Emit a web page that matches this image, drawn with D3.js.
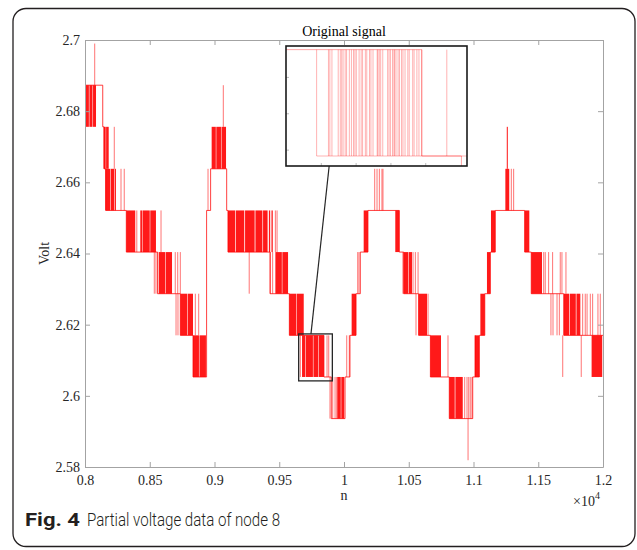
<!DOCTYPE html>
<html>
<head>
<meta charset="utf-8">
<script src="https://cdn.jsdelivr.net/npm/d3@7"></script>
<style>
	body { margin: 0; background: #fff; }
	svg { display: block; }
</style>
</head>
<body>
<div id="chart"></div>
<script>

///////////////////////////////////////////////////////////////////////
// data

// quantised voltage levels, index 0 .. 10
const levels = [ 2.5819, 2.5936, 2.6053, 2.6170, 2.6287, 2.6404, 2.6521, 2.6638, 2.6756, 2.6873, 2.6990 ];

// [ n, level index ] : level the signal settles on from n onward
const steps = [
	[ 8000, 9 ], [ 8137, 8 ], [ 8147, 7 ], [ 8160, 6 ], [ 8319, 5 ], [ 8560, 4 ], [ 8736, 3 ], [ 8834, 2 ],
	[ 8939, 6 ], [ 8970, 7 ], [ 9094, 6 ], [ 9104, 5 ], [ 9429, 4 ], [ 9578, 3 ], [ 9845, 2 ], [ 9902, 1 ],
	[ 10008, 2 ], [ 10046, 3 ], [ 10093, 4 ], [ 10126, 5 ], [ 10185, 6 ], [ 10427, 5 ], [ 10461, 4 ],
	[ 10576, 3 ], [ 10667, 2 ], [ 10813, 1 ], [ 10994, 2 ], [ 11045, 3 ], [ 11087, 4 ], [ 11130, 5 ],
	[ 11168, 6 ], [ 11395, 5 ], [ 11446, 4 ], [ 11697, 3 ], [ 12000, 3 ]
];

// [ n_from, n_to, lower level index ] : stretches of fast toggling between two levels
const bursts = [
	[ 8000, 8030, 8 ], [ 8034, 8058, 8 ], [ 8062, 8085, 8 ],
	[ 8144, 8160, 7 ], [ 8163, 8183, 7 ],
	[ 8157, 8195, 6 ], [ 8199, 8225, 6 ], [ 8229, 8239, 6 ],
	[ 8319, 8388, 5 ], [ 8427, 8440, 5 ], [ 8444, 8500, 5 ], [ 8504, 8548, 5 ],
	[ 8569, 8620, 4 ], [ 8624, 8672, 4 ],
	[ 8736, 8790, 3 ], [ 8794, 8834, 3 ],
	[ 8834, 8880, 2 ], [ 8884, 8934, 2 ],
	[ 8978, 9010, 7 ], [ 9014, 9050, 7 ], [ 9054, 9089, 7 ],
	[ 9104, 9160, 5 ], [ 9165, 9230, 5 ], [ 9236, 9310, 5 ], [ 9316, 9370, 5 ], [ 9375, 9410, 5 ],
	[ 9420, 9430, 5 ], [ 9440, 9450, 5 ],
	[ 9470, 9520, 4 ], [ 9524, 9568, 4 ],
	[ 9578, 9630, 3 ], [ 9634, 9689, 3 ],
	[ 9676, 9700, 2 ], [ 9704, 9760, 2 ], [ 9764, 9800, 2 ], [ 9804, 9845, 2 ],
	[ 9948, 9975, 1 ], [ 9979, 10002, 1 ],
	[ 10059, 10093, 3 ],
	[ 10152, 10185, 5 ],
	[ 10396, 10427, 5 ],
	[ 10461, 10495, 4 ], [ 10499, 10525, 4 ],
	[ 10576, 10641, 3 ],
	[ 10667, 10749, 2 ],
	[ 10813, 10855, 1 ], [ 10860, 10917, 1 ],
	[ 11009, 11045, 2 ],
	[ 11053, 11087, 3 ],
	[ 11104, 11130, 4 ],
	[ 11135, 11168, 5 ],
	[ 11246, 11276, 6 ],
	[ 11257, 11265, 7 ],
	[ 11395, 11431, 5 ],
	[ 11446, 11529, 4 ],
	[ 11697, 11740, 3 ], [ 11745, 11790, 3 ], [ 11795, 11825, 3 ],
	[ 11912, 11994, 2 ]
];

// [ n, lower level index ] : single spikes between two levels
const spikes = [
	[ 8075, 9 ], [ 8226, 7 ], [ 8278, 6 ], [ 8303, 6 ], [ 8400, 5 ], [ 8587, 5 ],
	[ 8535, 4 ], [ 8548, 4 ], [ 8697, 4 ], [ 8716, 4 ], [ 8736, 4 ],
	[ 8703, 3 ], [ 8718, 3 ], [ 8852, 3 ], [ 8878, 3 ],
	[ 8950, 6 ], [ 9068, 8 ],
	[ 9268, 4 ], [ 9470, 5 ], [ 9483, 5 ], [ 9431, 4 ], [ 9449, 4 ],
	[ 9663, 2 ], [ 9869, 2 ], [ 9882, 2 ],
	[ 9892, 1 ], [ 9913, 1 ], [ 9931, 1 ], [ 9944, 1 ],
	[ 10021, 2 ], [ 10041, 2 ],
	[ 10106, 4 ], [ 10116, 4 ],
	[ 10237, 6 ], [ 10255, 6 ], [ 10273, 6 ], [ 10293, 6 ], [ 10301, 6 ],
	[ 10455, 4 ], [ 10533, 4 ], [ 10551, 4 ], [ 10572, 4 ],
	[ 10556, 3 ], [ 10649, 3 ],
	[ 10803, 2 ], [ 11014, 2 ],
	[ 10932, 1 ], [ 10950, 1 ], [ 10963, 1 ], [ 10975, 1 ], [ 10988, 1 ],
	[ 10958, 0 ],
	[ 11292, 6 ], [ 11310, 6 ],
	[ 11542, 4 ], [ 11554, 4 ], [ 11580, 4 ], [ 11611, 4 ], [ 11670, 4 ], [ 11683, 4 ], [ 11714, 4 ],
	[ 11598, 3 ], [ 11614, 3 ], [ 11645, 3 ], [ 11663, 3 ], [ 11843, 3 ], [ 11863, 3 ], [ 11877, 3 ],
	[ 11902, 3 ], [ 11920, 3 ], [ 11961, 3 ], [ 11979, 3 ],
	[ 11689, 2 ], [ 11832, 2 ]
];

const x_ticks = [ 8000, 8500, 9000, 9500, 10000, 10500, 11000, 11500, 12000 ];
const y_ticks = [ 2.58, 2.6, 2.62, 2.64, 2.66, 2.68, 2.7 ];

// zoomed window ("Original signal")
const zoom_n = [ 9650, 9910 ];
const zoom_v = [ 2.6042, 2.6174 ];
const zoom_x_ticks = [ 9700, 9750, 9800, 9850 ];
const zoom_y_ticks = [ 2.606, 2.610, 2.614 ];
const zoom_toggles = [
	9694, 9711, 9713, 9716, 9725, 9728, 9730, 9732, 9735, 9737, 9741, 9744, 9747, 9749, 9751,
	9755, 9758, 9760, 9764, 9766, 9770, 9772, 9775, 9781, 9782, 9784, 9786, 9789, 9796, 9798,
	9800, 9803, 9805, 9806, 9808, 9811, 9813, 9816, 9818, 9821, 9825, 9827, 9832, 9834, 9838,
	9841, 9845, 9881
];

const title = "Original signal";
const x_label = "n";
const y_label = "Volt";
const caption_bold = "Fig. 4";
const caption_text = "Partial voltage data of node 8";

///////////////////////////////////////////////////////////////////////

const W = 637, H = 550;
const plot = { left: 85, right: 603, top: 40, bottom: 467 };
const inset = { left: 286, right: 467, top: 46, bottom: 166 };

const serif = "'Liberation Serif', 'Times New Roman', serif";
const sans = "Roboto, 'Noto Sans', sans-serif";
const axis_grey = "#a3a3a3";
const text_col = "#262626";
const red = "#ff0000";

let svg = d3.select( "#chart" )
	.append( "svg" )
	.attr( "width", W )
	.attr( "height", H );

// outer frame of the figure
svg.append( "rect" )
	.attr( "x", 13 ).attr( "y", 8.5 )
	.attr( "width", 622 ).attr( "height", 538 )
	.attr( "rx", 13 )
	.attr( "fill", "#fff" )
	.attr( "stroke", "#231f20" )
	.attr( "stroke-width", 1.3 );

let X = d3.scaleLinear()
	.domain( [ 8000, 12000 ] )
	.range( [ plot.left, plot.right ] );

let Y = d3.scaleLinear()
	.domain( [ 2.58, 2.7 ] )
	.range( [ plot.bottom, plot.top ] );

let defs = svg.append( "defs" );
defs.append( "clipPath" ).attr( "id", "clip_main" )
	.append( "rect" )
	.attr( "x", plot.left ).attr( "y", plot.top )
	.attr( "width", plot.right - plot.left ).attr( "height", plot.bottom - plot.top );
defs.append( "clipPath" ).attr( "id", "clip_inset" )
	.append( "rect" )
	.attr( "x", inset.left ).attr( "y", inset.top )
	.attr( "width", inset.right - inset.left ).attr( "height", inset.bottom - inset.top );

///////////////////////////////////////////////////////////////////////
// main signal

let g_sig = svg.append( "g" ).attr( "clip-path", "url(#clip_main)" );

g_sig.selectAll( "rect.burst" )
	.data( bursts )
	.join( "rect" )
		.attr( "class", "burst" )
		.attr( "x", d => X( d[ 0 ] ) )
		.attr( "width", d => Math.max( X( d[ 1 ] ) - X( d[ 0 ] ), 1 ) )
		.attr( "y", d => Y( levels[ d[ 2 ] + 1 ] ) )
		.attr( "height", d => Y( levels[ d[ 2 ] ] ) - Y( levels[ d[ 2 ] + 1 ] ) )
		.attr( "fill", red )
		.attr( "fill-opacity", 0.9 );

g_sig.selectAll( "line.spike" )
	.data( spikes )
	.join( "line" )
		.attr( "class", "spike" )
		.attr( "x1", d => X( d[ 0 ] ) )
		.attr( "x2", d => X( d[ 0 ] ) )
		.attr( "y1", d => Y( levels[ d[ 1 ] ] ) )
		.attr( "y2", d => Y( levels[ d[ 1 ] + 1 ] ) )
		.attr( "stroke", red )
		.attr( "stroke-opacity", 0.55 )
		.attr( "stroke-width", 1 );

g_sig.append( "path" )
	.datum( steps )
	.attr( "d", d3.line()
		.curve( d3.curveStepAfter )
		.x( d => X( d[ 0 ] ) )
		.y( d => Y( levels[ d[ 1 ] ] ) )
	)
	.attr( "fill", "none" )
	.attr( "stroke", red )
	.attr( "stroke-opacity", 0.75 )
	.attr( "stroke-width", 1 );

///////////////////////////////////////////////////////////////////////
// axes, box style

function style_axis( g )	{
	g.select( ".domain" ).attr( "stroke", axis_grey );
	g.selectAll( ".tick line" ).attr( "stroke", axis_grey );
	g.selectAll( ".tick text" )
		.attr( "fill", text_col )
		.attr( "font-family", serif )
		.attr( "font-size", 14 );
}

let fmt_x = d => String( +( d / 1e4 ).toFixed( 2 ) );

svg.append( "g" )
	.attr( "transform", "translate(0," + plot.bottom + ")" )
	.call( d3.axisBottom( X ).tickValues( x_ticks ).tickSizeInner( -5 ).tickSizeOuter( 0 ).tickPadding( 8 ).tickFormat( fmt_x ) )
	.call( style_axis );

svg.append( "g" )
	.attr( "transform", "translate(0," + plot.top + ")" )
	.call( d3.axisTop( X ).tickValues( x_ticks ).tickSizeInner( -5 ).tickSizeOuter( 0 ).tickFormat( "" ) )
	.call( style_axis );

svg.append( "g" )
	.attr( "transform", "translate(" + plot.left + ",0)" )
	.call( d3.axisLeft( Y ).tickValues( y_ticks ).tickSizeInner( -5 ).tickSizeOuter( 0 ).tickPadding( 5 ).tickFormat( d => d ) )
	.call( style_axis );

svg.append( "g" )
	.attr( "transform", "translate(" + plot.right + ",0)" )
	.call( d3.axisRight( Y ).tickValues( y_ticks ).tickSizeInner( -5 ).tickSizeOuter( 0 ).tickFormat( "" ) )
	.call( style_axis );

// labels
svg.append( "text" )
	.attr( "x", ( plot.left + plot.right ) / 2 ).attr( "y", 36 )
	.attr( "text-anchor", "middle" )
	.attr( "font-family", serif ).attr( "font-size", 14 )
	.attr( "fill", "#000" )
	.text( title );

svg.append( "text" )
	.attr( "x", X( 10000 ) ).attr( "y", 500 )
	.attr( "text-anchor", "middle" )
	.attr( "font-family", serif ).attr( "font-size", 14 )
	.attr( "fill", text_col )
	.text( x_label );

svg.append( "text" )
	.attr( "transform", "translate(49," + ( plot.top + plot.bottom ) / 2 + ") rotate(-90)" )
	.attr( "text-anchor", "middle" )
	.attr( "font-family", serif ).attr( "font-size", 14 )
	.attr( "fill", text_col )
	.text( y_label );

let exp = svg.append( "text" )
	.attr( "x", 573 ).attr( "y", 506 )
	.attr( "font-family", serif ).attr( "font-size", 14 )
	.attr( "fill", text_col );
exp.append( "tspan" ).text( "\u00d710" );
exp.append( "tspan" ).attr( "font-size", 10 ).attr( "dy", -7 ).text( "4" );

///////////////////////////////////////////////////////////////////////
// zoom window and its inset

let ZX = d3.scaleLinear().domain( zoom_n ).range( [ inset.left, inset.right ] );
let ZY = d3.scaleLinear().domain( zoom_v ).range( [ inset.bottom, inset.top ] );

// small window on the main plot
svg.append( "rect" )
	.attr( "x", X( zoom_n[ 0 ] ) )
	.attr( "y", Y( zoom_v[ 1 ] ) )
	.attr( "width", X( zoom_n[ 1 ] ) - X( zoom_n[ 0 ] ) )
	.attr( "height", Y( zoom_v[ 0 ] ) - Y( zoom_v[ 1 ] ) )
	.attr( "fill", "none" )
	.attr( "stroke", "#262626" )
	.attr( "stroke-width", 1.3 );

// connector
svg.append( "line" )
	.attr( "x1", X( 9745 ) ).attr( "y1", Y( zoom_v[ 1 ] ) )
	.attr( "x2", ZX( 9712 ) ).attr( "y2", inset.bottom )
	.attr( "stroke", "#262626" )
	.attr( "stroke-width", 1.2 );

svg.append( "rect" )
	.attr( "x", inset.left ).attr( "y", inset.top )
	.attr( "width", inset.right - inset.left ).attr( "height", inset.bottom - inset.top )
	.attr( "fill", "#fff" );

let g_in = svg.append( "g" ).attr( "clip-path", "url(#clip_inset)" );

let lo = levels[ 2 ], hi = levels[ 3 ];

g_in.selectAll( "line.tog" )
	.data( zoom_toggles )
	.join( "line" )
		.attr( "class", "tog" )
		.attr( "x1", d => ZX( d ) ).attr( "x2", d => ZX( d ) )
		.attr( "y1", ZY( lo ) ).attr( "y2", ZY( hi ) )
		.attr( "stroke", red )
		.attr( "stroke-opacity", 0.3 )
		.attr( "stroke-width", 1 );

// lower rail joining the toggles
g_in.append( "line" )
	.attr( "x1", ZX( zoom_toggles[ 0 ] ) ).attr( "x2", ZX( zoom_n[ 1 ] ) )
	.attr( "y1", ZY( lo ) ).attr( "y2", ZY( lo ) )
	.attr( "stroke", red )
	.attr( "stroke-opacity", 0.3 );

g_in.append( "path" )
	.datum( steps.filter( d => d[ 0 ] >= 9500 && d[ 0 ] <= 10100 ) )
	.attr( "d", d3.line()
		.curve( d3.curveStepAfter )
		.x( d => ZX( d[ 0 ] ) )
		.y( d => ZY( levels[ d[ 1 ] ] ) )
	)
	.attr( "fill", "none" )
	.attr( "stroke", red )
	.attr( "stroke-opacity", 0.35 )
	.attr( "stroke-width", 1 );

// faint inset ticks
svg.append( "g" )
	.attr( "transform", "translate(0," + inset.bottom + ")" )
	.call( d3.axisBottom( ZX ).tickValues( zoom_x_ticks ).tickSizeInner( -3 ).tickSizeOuter( 0 ).tickFormat( "" ) )
	.call( g => g.select( ".domain" ).remove() )
	.call( g => g.selectAll( ".tick line" ).attr( "stroke", "#bbb" ) );

svg.append( "g" )
	.attr( "transform", "translate(" + inset.left + ",0)" )
	.call( d3.axisLeft( ZY ).tickValues( zoom_y_ticks ).tickSizeInner( -3 ).tickSizeOuter( 0 ).tickFormat( "" ) )
	.call( g => g.select( ".domain" ).remove() )
	.call( g => g.selectAll( ".tick line" ).attr( "stroke", "#bbb" ) );

svg.append( "rect" )
	.attr( "x", inset.left ).attr( "y", inset.top )
	.attr( "width", inset.right - inset.left ).attr( "height", inset.bottom - inset.top )
	.attr( "fill", "none" )
	.attr( "stroke", "#1a1a1a" )
	.attr( "stroke-width", 1.6 );

///////////////////////////////////////////////////////////////////////
// caption

svg.append( "text" )
	.attr( "x", 25 ).attr( "y", 526 )
	.attr( "font-family", sans ).attr( "font-size", 18 ).attr( "font-weight", "bold" )
	.attr( "fill", "#231f20" )
	.attr( "textLength", 55 ).attr( "lengthAdjust", "spacingAndGlyphs" )
	.text( caption_bold );

svg.append( "text" )
	.attr( "x", 87 ).attr( "y", 526 )
	.attr( "font-family", sans ).attr( "font-size", 19 ).attr( "font-weight", 300 )
	.attr( "fill", "#231f20" )
	.attr( "textLength", 193 ).attr( "lengthAdjust", "spacingAndGlyphs" )
	.text( caption_text );

</script>
</body>
</html>
